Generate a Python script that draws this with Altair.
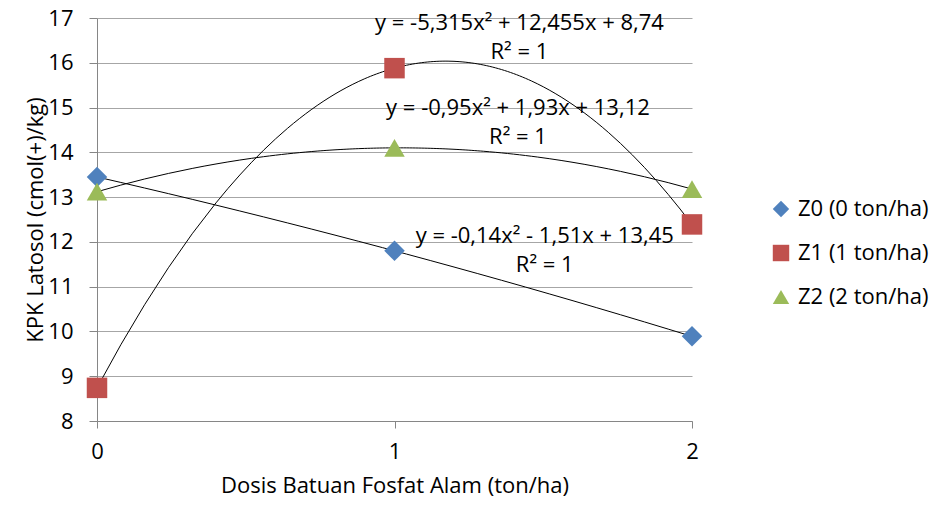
import altair as alt
import pandas as pd

# Data
doses = [0, 1, 2]
series_names = ["Z0 (0 ton/ha)", "Z1 (1 ton/ha)", "Z2 (2 ton/ha)"]
z0_values = [13.45, 11.80, 9.89]
z1_values = [8.74, 15.88, 12.39]
z2_values = [13.12, 14.10, 13.18]

# Trendline equation annotations
eq_labels = [
    "y = -5,315x² + 12,455x + 8,74", "R² = 1",
    "y = -0,95x² + 1,93x + 13,12", "R² = 1",
    "y = -0,14x² - 1,51x + 13,45", "R² = 1",
]
eq_x = [1.42, 1.42, 1.415, 1.415, 1.505, 1.505]
eq_y = [16.88, 16.25, 14.98, 14.35, 12.13, 11.48]

rows = []
for name, vals in zip(series_names, [z0_values, z1_values, z2_values]):
    for d, v in zip(doses, vals):
        rows.append({"dose": d, "kpk": v, "series": name})
df = pd.DataFrame(rows)
ann = pd.DataFrame({"label": eq_labels, "dose": eq_x, "kpk": eq_y})

FONT = "Open Sans"
FS = 22
colors = ["#4F81BD", "#C0504D", "#9BBB59"]
shapes = ["diamond", "square", "triangle-up"]

xs = alt.Scale(domain=[0, 2], nice=False, zero=False)
ys = alt.Scale(domain=[8, 17], nice=False, zero=False)
x_axis = alt.Axis(
    title="Dosis Batuan Fosfat Alam (ton/ha)", tickCount=len(doses) - 1,
    format="d", grid=False, tickSize=7, labelPadding=13, titlePadding=13,
    labelFlush=False, labelOverlap=False,
)
y_axis = alt.Axis(
    title="KPK Latosol (cmol(+)/kg)", values=list(range(8, 18)), tickCount=10,
    grid=True, tickSize=8, labelPadding=16, titlePadding=0,
    labelOverlap=False, labelFlush=False,
)
X = alt.X("dose:Q", scale=xs, axis=x_axis)
Y = alt.Y("kpk:Q", scale=ys, axis=y_axis)

base = alt.Chart(df)

trend = base.transform_regression(
    "dose", "kpk", method="poly", order=2, groupby=["series"]
).mark_line(color="#000000", strokeWidth=1, clip=True).encode(
    x=X, y=Y, detail="series:N",
)

legend = alt.Legend(title=None, orient="none", legendX=673, legendY=180)
points = base.mark_point(filled=True, opacity=1, size=420).encode(
    x=X, y=Y,
    color=alt.Color("series:N", scale=alt.Scale(domain=series_names, range=colors), legend=legend),
    shape=alt.Shape("series:N", scale=alt.Scale(domain=series_names, range=shapes), legend=legend),
)

text = alt.Chart(ann).mark_text(
    font=FONT, fontSize=FS, color="#000000", align="center", baseline="middle"
).encode(x=X, y=Y, text="label:N")

chart = alt.layer(trend, points, text).properties(
    width=595, height=403,
    autosize=alt.AutoSizeParams(type="none"),
    padding={"left": 89, "top": 10, "right": 246, "bottom": 77},
).configure_view(stroke=None).configure_axis(
    labelFont=FONT, titleFont=FONT, labelFontSize=FS, titleFontSize=FS,
    labelColor="#000000", titleColor="#000000", titleFontWeight="normal",
    domainColor="#868686", tickColor="#868686", gridColor="#A6A6A6",
    gridWidth=1, domainWidth=1,
).configure_legend(
    labelFont=FONT, labelFontSize=22, labelColor="#000000",
    symbolSize=270, rowPadding=22, labelOffset=6, symbolStrokeWidth=0,
    symbolOpacity=1,
)

chart.save("out.html", embed_options={"renderer": "svg", "actions": False})
